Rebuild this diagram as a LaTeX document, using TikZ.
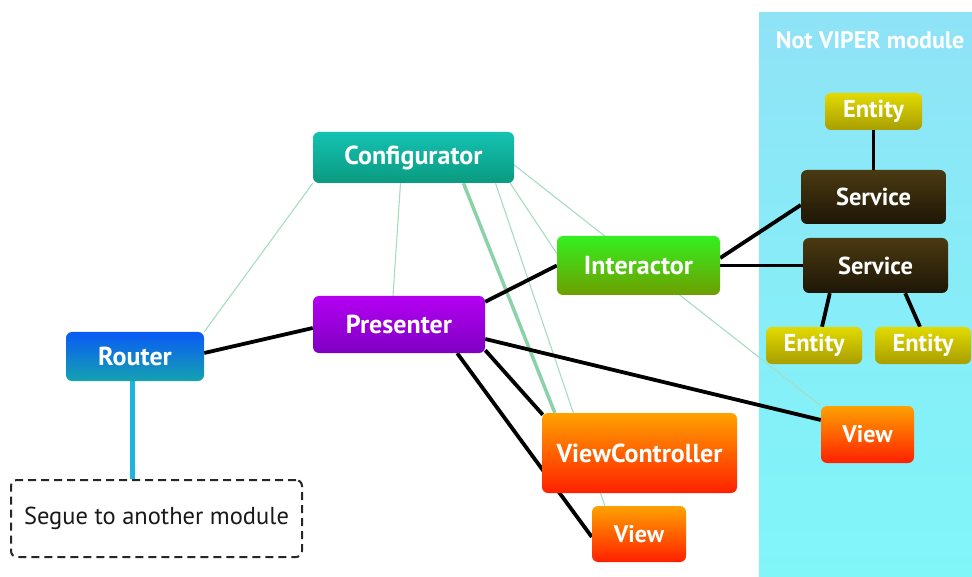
\documentclass[tikz,border=0pt]{standalone}
\usepackage{fontspec}
\setmainfont{PT Sans}
\usetikzlibrary{calc,shadings}
\pgfdeclarelayer{back}\pgfdeclarelayer{bg}
\pgfsetlayers{back,bg,main}
\definecolor{panelT}{HTML}{8FE3F6}
\definecolor{panelB}{HTML}{80F6F9}
\definecolor{cfgT}{HTML}{14C2B2}
\definecolor{cfgB}{HTML}{0A9A80}
\definecolor{rtT}{HTML}{0A5AF5}
\definecolor{rtB}{HTML}{14A2B0}
\definecolor{prT}{HTML}{B400F2}
\definecolor{prB}{HTML}{7E00C2}
\definecolor{inT}{HTML}{33F020}
\definecolor{inB}{HTML}{6E9E00}
\definecolor{orT}{HTML}{FFA200}
\definecolor{orB}{HTML}{FF2000}
\definecolor{enT}{HTML}{E2DA00}
\definecolor{enB}{HTML}{A89E00}
\definecolor{svT}{HTML}{4A3A12}
\definecolor{svB}{HTML}{1E1606}
\definecolor{thinG}{HTML}{A6DCC2}
\definecolor{thickG}{HTML}{8CD2A8}
\definecolor{segC}{HTML}{1FB4DF}
\begin{document}
\begin{tikzpicture}[x=1pt,y=-1pt,
  box/.style={rounded corners=6pt, text=white, inner sep=0pt,
    font=\bfseries\fontsize{26}{26}\selectfont},
  small/.style={box, font=\bfseries\fontsize{24.5}{24.5}\selectfont},
  cfgbox/.style={box, top color=cfgT, bottom color=cfgB},
  rtbox/.style={box, top color=rtT, bottom color=rtB},
  prbox/.style={box, top color=prT, bottom color=prB},
  inbox/.style={box, top color=inT, bottom color=inB},
  orbox/.style={box, top color=orT, bottom color=orB},
  viewbox/.style={orbox, font=\bfseries\fontsize{24}{24}\selectfont},
  enbox/.style={small, top color=enT, bottom color=enB},
  svbox/.style={small, top color=svT, bottom color=svB},
  thinline/.style={draw=thinG, line width=1.1pt},
  thickline/.style={draw=thickG, line width=3.5pt},
  blk/.style={draw=black, line width=3.8pt},
  segline/.style={draw=segC, line width=5pt}
]
\useasboundingbox (0,0) rectangle (972,577);
\begin{pgfonlayer}{back}
  \fill[top color=panelT, bottom color=panelB] (759,13) rectangle (972,577);
\end{pgfonlayer}
\node[text=white, font=\bfseries\fontsize{24}{24}\selectfont] (title) at (870,40) {Not VIPER module};

\node[cfgbox, minimum width=201pt, minimum height=51pt] (cfg) at (413.5,157.5) {Configurator};
\node[rtbox, minimum width=138pt, minimum height=49pt] (rt) at (135,356.5) {Router};
\node[prbox, minimum width=172pt, minimum height=57pt] (pr) at (399,324.5) {Presenter};
\node[inbox, minimum width=163pt, minimum height=59pt] (in) at (638.5,265.5) {Interactor};
\node[orbox, minimum width=195pt, minimum height=80pt] (vc) at (639.5,453) {ViewController};
\node[viewbox, minimum width=94pt, minimum height=56pt] (vb) at (639,534) {View};
\node[viewbox, minimum width=93pt, minimum height=57pt] (vr) at (867.5,434.5) {View};
\node[enbox, minimum width=97pt, minimum height=37pt] (et) at (873.5,111.5) {Entity};
\node[svbox, minimum width=145pt, minimum height=54pt] (s1) at (873.5,197) {Service};
\node[svbox, minimum width=145pt, minimum height=55pt] (s2) at (875.5,265.5) {Service};
\node[enbox, minimum width=96pt, minimum height=37pt] (el) at (814,345.5) {Entity};
\node[enbox, minimum width=96pt, minimum height=37pt] (er) at (923,345.5) {Entity};
\node[draw=black!85, dash pattern=on 8pt off 5pt, line width=2pt, rounded corners=6pt,
  minimum width=291pt, minimum height=77pt, text=black!90,
  font=\fontsize{24.5}{24.5}\selectfont] (sg) at (156.5,518.5) {Segue to another module};
\coordinate (rs) at ($(rt.south)+(-3,0)$);

\begin{pgfonlayer}{bg}
  % configurator links
  \draw[thinline] (cfg.south west) -- (rt.north east);
  \draw[thinline] ($(cfg.south)+(-13,0)$) -- ($(pr.north)+(-6,0)$);
  \draw[thickline] ($(cfg.south)+(50,0)$) -- ($(vc.north west)+(13,0)$);
  \draw[thinline] ($(cfg.south)+(82,0)$) -- ($(vb.north west)+(13,0)$);
  \draw[thinline] ($(cfg.south east)+(-4,0)$) -- ($(in.west)+(0,-12)$);
  \draw[thinline] ($(cfg.east)+(0,7.5)$) -- (vr.north west);
  % black links
  \draw[blk] ($(rt.east)+(0,-3.5)$) -- ($(pr.west)+(0,3.5)$);
  \draw[blk] ($(pr.north east)+(0,6)$) -- (in.west);
  \draw[blk] ($(pr.east)+(0,14.5)$) -- ($(vr.west)+(0,-14.5)$);
  \draw[blk] ($(pr.south east)+(0,-3)$) -- ($(vc.north west)+(1,2)$);
  \draw[blk] ($(pr.south east)+(-28,0)$) -- ($(vb.west)+(0,3)$);
  \draw[segline] (rs) -- (rs |- sg.north);
  \draw[blk] ($(in.east)+(0,-7.5)$) -- ($(s1.west)+(0,8)$);
  \draw[blk] (in.east) -- (s2.west);
  \draw[blk] (et.south) -- (s1.north);
  \draw[blk] ($(s2.south west)+(27,0)$) -- ($(el.north)+(8,0)$);
  \draw[blk] ($(s2.south east)+(-43,0)$) -- ($(er.north)+(-3,0)$);
\end{pgfonlayer}
\end{tikzpicture}
\end{document}
